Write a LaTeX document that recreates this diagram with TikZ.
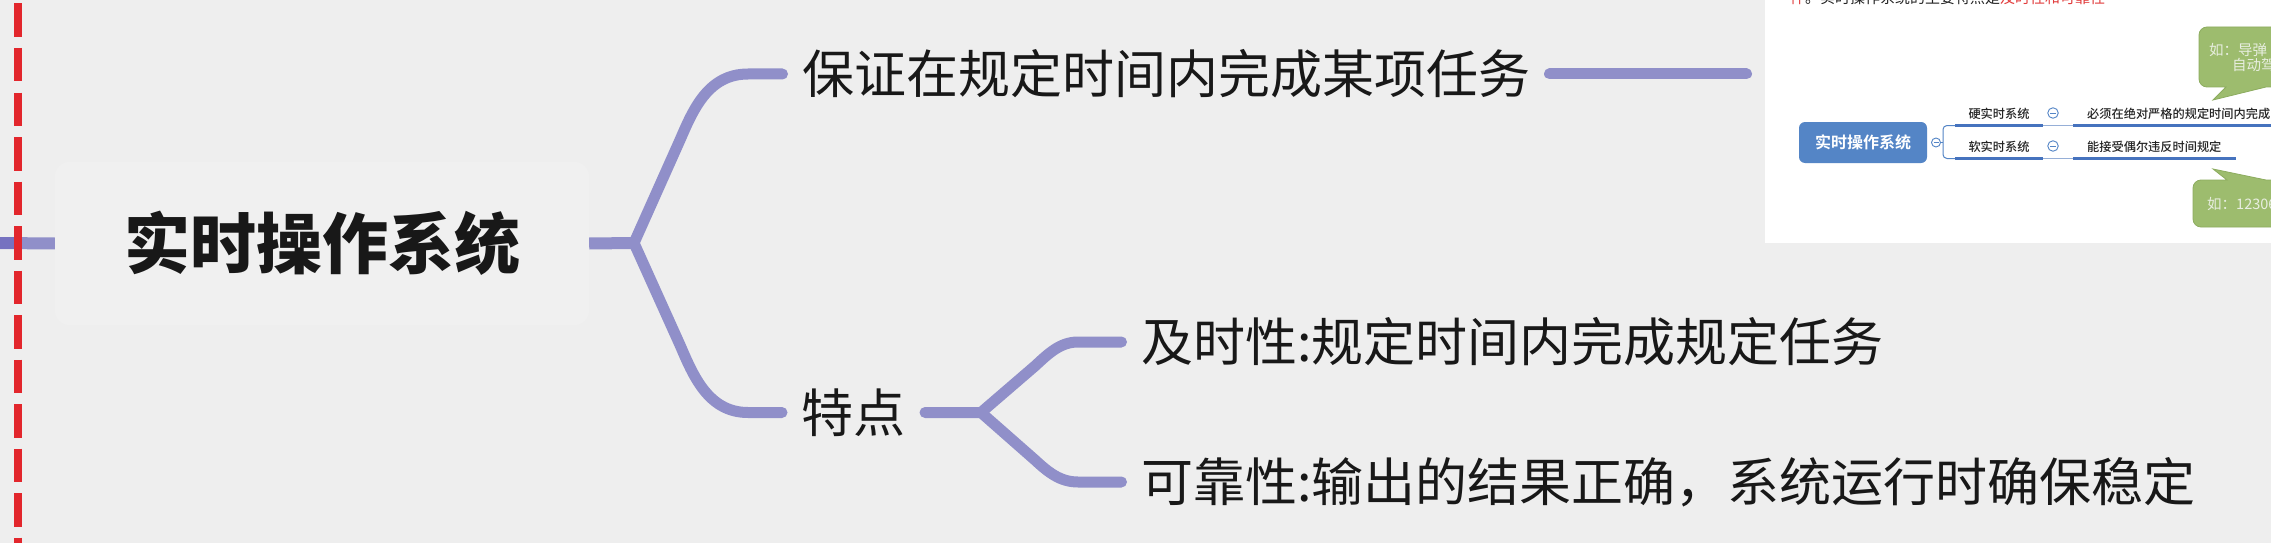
\documentclass[tikz,border=0pt]{standalone}
\usepackage{fontspec}
\newfontfamily\cjk{Noto Sans CJK SC}[BoldFont={Noto Sans CJK SC Bold}]
\newfontfamily\cjkheavy{Noto Sans CJK SC Black}
\newfontfamily\cjkmed{Noto Sans CJK SC Medium}
\definecolor{bgc}{RGB}{238,238,238}
\definecolor{rootfill}{RGB}{240,240,240}
\definecolor{brpurple}{RGB}{144,143,201}
\definecolor{darkpurple}{RGB}{118,114,192}
\definecolor{dashred}{RGB}{226,38,44}
\definecolor{txtblack}{RGB}{24,24,24}
\definecolor{mblue}{RGB}{84,133,198}
\definecolor{mline}{RGB}{70,115,190}
\definecolor{mthin}{RGB}{150,175,215}
\definecolor{sred}{RGB}{225,60,60}
\definecolor{sdark}{RGB}{35,35,35}
\definecolor{cgreen}{RGB}{157,188,110}
\definecolor{cgreenb}{RGB}{140,172,95}
\definecolor{ctext}{RGB}{232,238,224}
\begin{document}
\begin{tikzpicture}[x=1pt,y=-1pt,
  branch/.style={line width=11pt, draw=brpurple, line cap=round, line join=round},
  stub/.style={line width=12pt, draw=brpurple},
  lbl/.style={font=\cjk\fontsize{52}{60}\selectfont, text=txtblack, inner sep=0pt, outer xsep=19.5pt, anchor=west},
  rootbox/.style={rounded corners=14pt, fill=rootfill, minimum width=534pt, minimum height=163pt, inner sep=0pt, font=\cjkheavy\fontsize{66}{70}\selectfont, text=txtblack},
  mbox/.style={rounded corners=6pt, fill=mblue, minimum width=128pt, minimum height=41pt, inner sep=0pt, font=\cjk\bfseries\fontsize{16}{16}\selectfont, text=white},
  mcirc/.style={circle, draw=mblue, fill=white, line width=0.9pt, minimum size=#1, inner sep=0pt},
  mlbl/.style={font=\cjkmed\fontsize{12.2}{13}\selectfont, text=sdark, inner sep=0pt},
  callout/.style={fill=cgreen, draw=cgreenb, line width=0.8pt},
  ctxt/.style={font=\cjk\fontsize{14.5}{15}\selectfont, text=ctext, inner sep=0pt, anchor=west}
]
\useasboundingbox (0,0) rectangle (2271,543);
\fill[bgc] (0,0) rectangle (2271,543);

% root
\node[rootbox] (root) at (322,243.5) {实时操作系统};
\coordinate (lstub) at (0,243);
\coordinate (b1) at (634,243);
\draw[stub] (root.west) -- (lstub);
\draw[line width=12pt, draw=darkpurple] (14,243) -- (lstub);
\draw[stub] (root.east) -- (b1);

% labels
\node[lbl] (t1) at (782.5,74) {保证在规定时间内完成某项任务};
\node[lbl] (feat) at (782,412.5) {特点};
\node[lbl] (s1) at (1121.5,342) {及时性:规定时间内完成规定任务};
\node[lbl] (s2) at (1121.5,482) {可靠性:输出的结果正确，系统运行时确保稳定};
\coordinate (b2) at (981,412.5);
\coordinate (tend) at (1746.5,74);

% branches
\draw[branch] (b1) -- (680,140) .. controls (693,110) and (708,74) .. (748,74) -- (t1.west);
\draw[branch] (b1) -- (680,345) .. controls (693,375) and (708,412.5) .. (748,412.5) -- (feat.west);
\draw[branch] (feat.east) -- (b2) -- (1035,366) .. controls (1048,354) and (1060,342) .. (1078,342) -- (s1.west);
\draw[branch] (b2) -- (1035,460) .. controls (1048,472) and (1060,482) .. (1078,482) -- (s2.west);
\draw[branch] (t1.east) -- (tend);

% red dashed line
\draw[dashred, line width=7.5pt, dash pattern=on 33.5pt off 11pt] (18,3.5) -- (18,543);

% embedded screenshot
\begin{scope}
\clip (1765,0) rectangle (2271,243);
\fill[white] (1765,0) rectangle (2271,243);
\node[anchor=base west, inner sep=0pt, font=\cjk\fontsize{15}{15}\selectfont] (cap) at (1790,4)
  {\textcolor{sred}{件}\textcolor{sdark}{。实时操作系统的主要特点是}\textcolor{sred}{及时性和可靠性}};
\node[mbox] (mroot) at (1863,142.5) {实时操作系统};
\node[mcirc=9pt] (c0) at (1936,142.5) {};
\draw[mblue, line width=0.9pt] ([xshift=-2.5pt]c0.center) -- ([xshift=2.5pt]c0.center);
\draw[mblue, line width=1pt] (c0.east) -- (1943,142.5);
\draw[mblue, line width=1pt, rounded corners=4pt] (1956,125.5) -- (1943,125.5) -- (1943,158.5) -- (1956,158.5);
\draw[mline, line width=2.8pt] (1955,125.5) -- (2043,125.5);
\draw[mline, line width=2.8pt] (1955,158.5) -- (2043,158.5);
\draw[mthin, line width=0.8pt] (2043,125.5) -- (2073,125.5);
\draw[mthin, line width=0.8pt] (2043,158.5) -- (2073,158.5);
\draw[mline, line width=2.8pt] (2073,125.5) -- (2275,125.5);
\draw[mline, line width=2.8pt] (2073,158.5) -- (2236,158.5);
\node[mlbl] (h1) at (1999,114) {硬实时系统};
\node[mlbl] (h2) at (1999,147) {软实时系统};
\node[mcirc=10.5pt] (c1) at (2053,113) {};
\node[mcirc=10.5pt] (c2) at (2053,146) {};
\draw[mblue, line width=0.9pt] ([xshift=-3pt]c1.center) -- ([xshift=3pt]c1.center);
\draw[mblue, line width=0.9pt] ([xshift=-3pt]c2.center) -- ([xshift=3pt]c2.center);
\node[mlbl, anchor=west] (d1) at (2087,114) {必须在绝对严格的规定时间内完成};
\node[mlbl, anchor=west] (d2) at (2087,147) {能接受偶尔违反时间规定};
% callouts
\draw[callout] (2213,100) -- (2226,87) [rounded corners=8pt] -- (2199,87) -- (2199,27) -- (2300,27) -- (2300,87) [sharp corners] -- (2266,87) -- cycle;
\node[ctxt] (k1) at (2209,50) {如：导弹};
\node[ctxt] (k2) at (2232,65) {自动驾驶};
\draw[callout] (2213,169) -- (2266,180) [rounded corners=8pt] -- (2300,180) -- (2300,227) -- (2193,227) -- (2193,180) [sharp corners] -- (2227,180) -- cycle;
\node[ctxt] (k3) at (2207,204) {如：12306};
\end{scope}
\end{tikzpicture}
\end{document}
